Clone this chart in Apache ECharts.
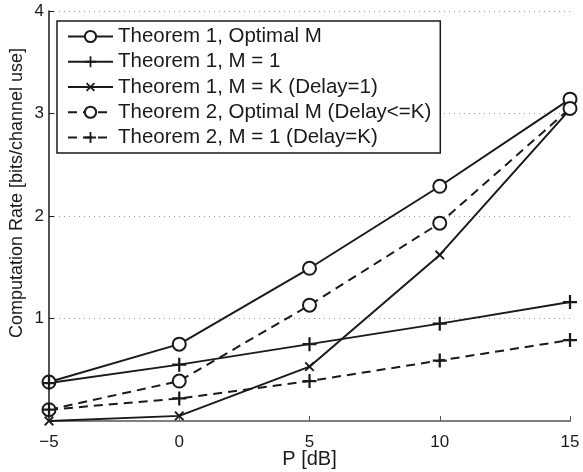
<!DOCTYPE html>
<html>
<head>
<meta charset="utf-8">
<script src="https://cdn.jsdelivr.net/npm/echarts@6/dist/echarts.min.js"></script>
<style>
  html, body { margin: 0; padding: 0; background: #fff; }
  #chart { width: 583px; height: 472px; }
</style>
</head>
<body>
<div id="chart"></div>
<script>
// x 轴: P [dB]
const powerDb = [-5, 0, 5, 10, 15]
const yTicks = [0, 1, 2, 3, 4]

// 各曲线数值
const t1Optimal = [0.38, 0.75, 1.49, 2.29, 3.14]
const t1MOne = [0.37, 0.55, 0.75, 0.95, 1.16]
const t1MK = [0.0, 0.05, 0.53, 1.62, 3.04]
const t2Optimal = [0.11, 0.39, 1.13, 1.93, 3.05]
const t2MOne = [0.11, 0.22, 0.39, 0.59, 0.79]

const seriesNames = [
  'Theorem 1, Optimal M',
  'Theorem 1, M = 1',
  'Theorem 1, M = K (Delay=1)',
  'Theorem 2, Optimal M (Delay<=K)',
  'Theorem 2, M = 1 (Delay=K)'
]

const ink = '#1a1a1a'
const font = 'Liberation Sans, Arial, sans-serif'
// 加号形状, 旋转45度即为叉号
const plusPath = 'path://M-1.6,-10L1.6,-10L1.6,-1.6L10,-1.6L10,1.6L1.6,1.6L1.6,10L-1.6,10L-1.6,1.6L-10,1.6L-10,-1.6L-1.6,-1.6Z'

const pairs = (arr) => powerDb.map((x, i) => [x, arr[i]])

const makeSeries = (name, data, dashed, symbol, size, rotate) => ({
  name: name,
  type: 'line',
  data: pairs(data),
  symbol: symbol,
  symbolSize: size,
  symbolRotate: rotate || 0,
  showAllSymbol: true,
  clip: false,
  lineStyle: { color: ink, width: 2, type: dashed ? [9, 6] : 'solid' },
  itemStyle: { color: ink, borderColor: ink, borderWidth: symbol === 'emptyCircle' ? 2 : 0 },
  emphasis: { disabled: true },
  z: 3
})

const chart = echarts.init(document.getElementById('chart'))

chart.setOption({
  animation: false,
  grid: { left: 49, right: 13, top: 11, bottom: 51, outerBoundsMode: 'none', containLabel: false },
  legend: {
    orient: 'vertical',
    left: 57,
    top: 21,
    padding: [5, 9, 5, 10],
    itemGap: 4.25,
    itemWidth: 45,
    itemHeight: 14,
    borderColor: ink,
    borderWidth: 1.5,
    backgroundColor: '#fff',
    textStyle: {
      fontFamily: font,
      fontSize: 20.5,
      color: ink,
      lineHeight: 19.5
    },
    data: seriesNames
  },
  xAxis: {
    type: 'value',
    min: -5,
    max: 15,
    interval: 5,
    name: 'P [dB]',
    nameLocation: 'middle',
    nameGap: 28,
    nameMoveOverlap: false,
    nameTextStyle: { fontFamily: font, fontSize: 20, color: ink },
    axisLine: { onZero: false, lineStyle: { color: '#808080', width: 2 } },
    axisTick: { inside: true, length: 5, lineStyle: { color: '#555', width: 1 } },
    axisLabel: {
      fontFamily: font,
      fontSize: 17,
      color: ink,
      margin: 13,
      formatter: (v) => String(v).replace('-', '\u2212')
    },
    splitLine: { show: false }
  },
  yAxis: {
    type: 'value',
    min: yTicks[0],
    max: yTicks[yTicks.length - 1],
    interval: 1,
    name: 'Computation Rate [bits/channel use]',
    nameLocation: 'middle',
    nameGap: 23,
    nameMoveOverlap: false,
    nameTextStyle: { fontFamily: font, fontSize: 18, color: ink, padding: [0, 0, 0, 46] },
    axisLine: { show: true, onZero: false, lineStyle: { color: ink, width: 1.5 } },
    axisTick: { show: true, inside: true, length: 5, lineStyle: { color: ink, width: 1 } },
    axisLabel: {
      fontFamily: font,
      fontSize: 17,
      color: ink,
      margin: 5,
      formatter: (v) => (v === 0 ? '' : String(v))
    },
    splitLine: { show: true, lineStyle: { color: '#999', type: [1, 4], width: 1 } }
  },
  series: [
    makeSeries(seriesNames[0], t1Optimal, false, 'emptyCircle', 13),
    makeSeries(seriesNames[1], t1MOne, false, plusPath, 14),
    makeSeries(seriesNames[2], t1MK, false, plusPath, 12, 45),
    makeSeries(seriesNames[3], t2Optimal, true, 'emptyCircle', 13),
    makeSeries(seriesNames[4], t2MOne, true, plusPath, 14)
  ]
})
</script>
</body>
</html>
